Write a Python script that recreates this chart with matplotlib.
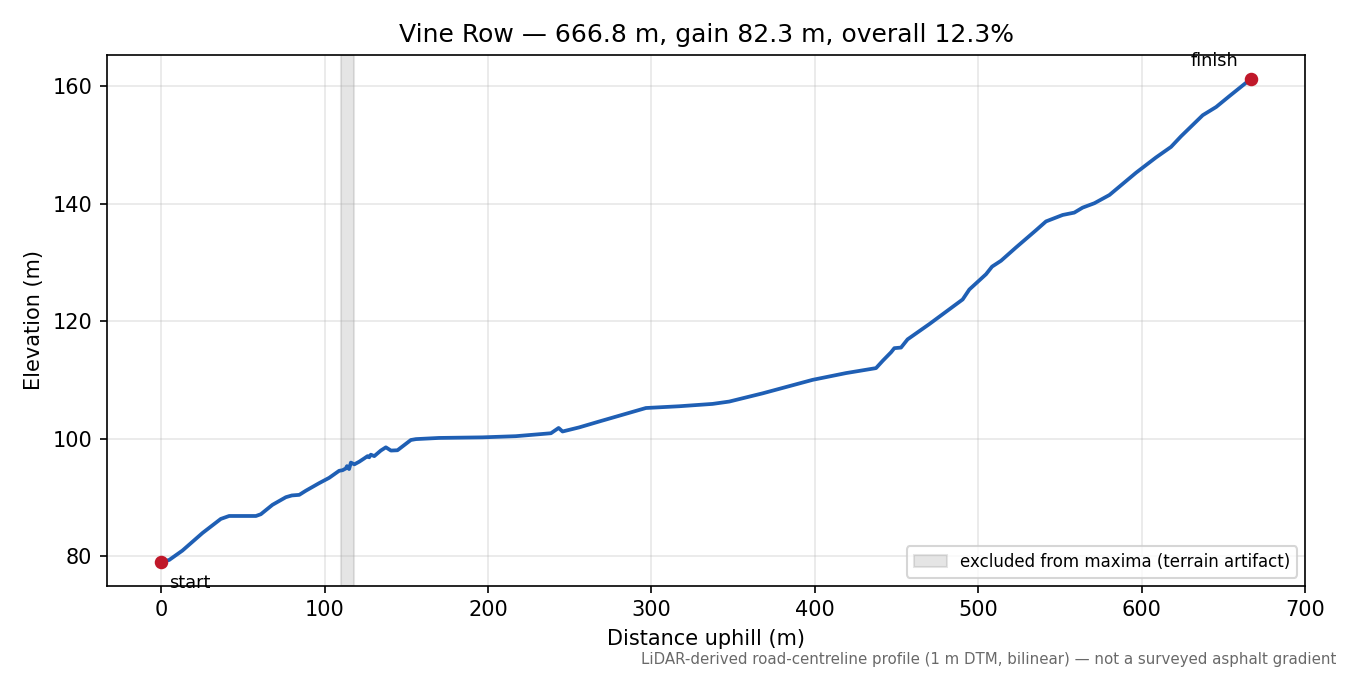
import numpy as np
import matplotlib
matplotlib.use("Agg")
import matplotlib.pyplot as plt

# profile samples (distance m, elevation m)
dist = [0, 4.9, 13, 25.3, 36.5, 41.6, 50, 58, 61, 68.1, 76.3, 80, 84.5, 88.5,
        96.7, 102.8, 108.9, 111, 113, 113.7, 115, 116.1, 118.2, 121.2, 124.2,
        126.3, 127.3, 128.3, 130.4, 134.4, 137.5, 140.6, 144.6, 152.8, 155.9,
        170, 196.6, 217, 238.5, 243.2, 245.6, 255.8, 268, 296.6, 317, 337.4,
        347.6, 368, 398.6, 419, 437.4, 441.5, 446.6, 448.6, 452.7, 456.7, 470,
        480.2, 490.4, 494.5, 504.7, 508.4, 513.9, 523, 535.3, 541.4, 551.6,
        558.7, 563.8, 571, 580.2, 596.5, 608.7, 617.9, 624, 637.3, 645.5,
        653.6, 666.8]
elev = [79.0, 79.3, 80.9, 83.9, 86.3, 86.8, 86.8, 86.8, 87.1, 88.7, 90.0, 90.3,
        90.4, 91.1, 92.4, 93.3, 94.5, 94.6, 94.9, 95.3, 94.8, 95.9, 95.6, 96.05,
        96.6, 97.0, 96.8, 97.25, 97.0, 97.95, 98.5, 97.95, 98.0, 99.75, 99.9,
        100.1, 100.2, 100.4, 100.9, 101.8, 101.2, 101.9, 102.9, 105.2, 105.5,
        105.9, 106.3, 107.7, 110.0, 111.15, 112.0, 113.25, 114.7, 115.4, 115.5,
        116.9, 119.5, 121.6, 123.7, 125.4, 128.0, 129.3, 130.3, 132.55, 135.5,
        137.0, 138.1, 138.5, 139.35, 140.1, 141.5, 145.3, 147.9, 149.7, 151.5,
        155.1, 156.5, 158.35, 161.3]

artifact_span = (110, 118)
route = "Vine Row"
length_m = 666.8
gain_m = 82.3
grade_pct = 12.3

fig, ax = plt.subplots(figsize=(9, 4.5), dpi=150)

ax.axvspan(*artifact_span, color="gray", alpha=0.2,
           label="excluded from maxima (terrain artifact)")
ax.plot(dist, elev, color="#1f5fb4", linewidth=1.8)
ax.scatter([dist[0], dist[-1]], [elev[0], elev[-1]], color="#c0182a", s=30, zorder=5)
ax.annotate("start", (dist[0], elev[0]), xytext=(4, -6), textcoords="offset points",
            ha="left", va="top", fontsize=8.5)
ax.annotate("finish", (dist[-1], elev[-1]), xytext=(-6, 4), textcoords="offset points",
            ha="right", va="bottom", fontsize=8.5)

ax.set_title(f"{route} \u2014 {length_m} m, gain {gain_m} m, overall {grade_pct}%", fontsize=12)
ax.set_xlabel("Distance uphill (m)")
ax.set_ylabel("Elevation (m)")
ax.grid(True, alpha=0.3)
ax.set_xticks(np.arange(0, 701, 100))
ax.legend(loc="lower right", fontsize=8)

fig.text(0.99, 0.012, "LiDAR-derived road-centreline profile (1 m DTM, bilinear) \u2014 not a surveyed asphalt gradient",
         ha="right", va="bottom", fontsize=7.2, color="dimgray")

fig.subplots_adjust(left=0.079, right=0.967, top=0.919, bottom=0.132)
fig.savefig("out.png")
